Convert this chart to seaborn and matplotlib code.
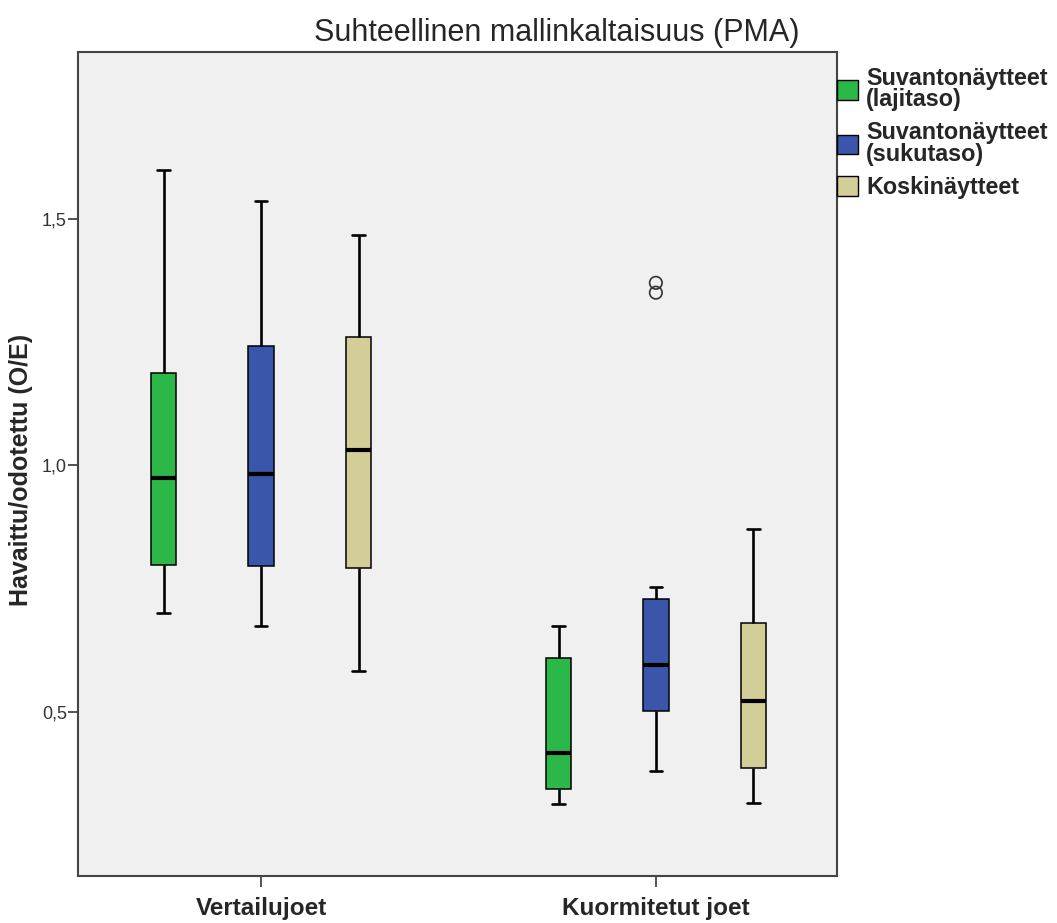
import numpy as np
import pandas as pd
import matplotlib
matplotlib.use("Agg")
import matplotlib.pyplot as plt
import seaborn as sns
from matplotlib.patches import Patch

# ---------------- data ----------------
title = "Suhteellinen mallinkaltaisuus (PMA)"
ylabel = "Havaittu/odotettu (O/E)"
groups = ["Vertailujoet", "Kuormitetut joet"]
series = ["Suvantonäytteet (lajitaso)", "Suvantonäytteet (sukutaso)", "Koskinäytteet"]
legend_labels = ["Suvantonäytteet\n(lajitaso)", "Suvantonäytteet\n(sukutaso)", "Koskinäytteet"]
colors = ["#2cb848", "#3a56aa", "#d3ce97"]

# five-number summaries: min, Q1, median, Q3, max
vert_lajitaso = [0.700, 0.798, 0.975, 1.188, 1.601]
vert_sukutaso = [0.674, 0.796, 0.983, 1.243, 1.538]
vert_koski = [0.582, 0.792, 1.032, 1.261, 1.468]
kuorm_lajitaso = [0.312, 0.343, 0.416, 0.609, 0.674]
kuorm_sukutaso = [0.379, 0.501, 0.594, 0.729, 0.753]
kuorm_koski = [0.314, 0.385, 0.521, 0.680, 0.871]
kuorm_sukutaso_outliers = [1.371, 1.351]

ytick_values = [0.5, 1.0, 1.5]
ytick_labels = ["0,5", "1,0", "1,5"]

# ---------------- tables ----------------
summaries = {
    (groups[0], series[0]): vert_lajitaso,
    (groups[0], series[1]): vert_sukutaso,
    (groups[0], series[2]): vert_koski,
    (groups[1], series[0]): kuorm_lajitaso,
    (groups[1], series[1]): kuorm_sukutaso,
    (groups[1], series[2]): kuorm_koski,
}
rows = [(g, s, v) for (g, s), vals in summaries.items() for v in vals]
df = pd.DataFrame(rows, columns=["joki", "nayte", "arvo"])
df_out = pd.DataFrame({"joki": groups[1], "nayte": series[1],
                       "arvo": kuorm_sukutaso_outliers})

# ---------------- figure ----------------
sns.set_theme(style="ticks")
plt.rcParams["font.family"] = ["Liberation Sans", "DejaVu Sans"]

fig = plt.figure(figsize=(10.57, 9.23), dpi=100)
ax = fig.add_axes([0.0738, 0.0509, 0.7181, 0.8928])
ax.set_facecolor("#f0f0f0")

BOX_W = 0.74
sns.boxplot(data=df, x="joki", y="arvo", hue="nayte", order=groups, hue_order=series,
            palette=colors, width=BOX_W, gap=0.74, whis=np.inf, saturation=1,
            linecolor="black", linewidth=1.1,
            medianprops=dict(linewidth=3.0, color="black"),
            whiskerprops=dict(linewidth=1.9, color="black"),
            capprops=dict(linewidth=1.9, color="black"),
            legend=False, ax=ax)

sns.stripplot(data=df_out, x="joki", y="arvo", hue="nayte", order=groups, hue_order=series,
              dodge=True, jitter=False, palette=colors, size=9, legend=False, ax=ax)

# align strip dodge offsets (seaborn uses 0.8 width) with the box dodge width
for coll in ax.collections:
    offs = np.asarray(coll.get_offsets(), dtype=float)
    if len(offs):
        base = np.round(offs[:, 0])
        offs[:, 0] = base + (offs[:, 0] - base) * BOX_W / 0.8
        coll.set_offsets(offs)
    coll.set_facecolor("none")
    coll.set_edgecolor("#333333")
    coll.set_linewidth(1.2)

ax.set_xlim(-0.464, 1.459)
ax.set_ylim(0.166, 1.840)
ax.set_yticks(ytick_values, ytick_labels)
ax.set_xlabel("")
ax.set_ylabel("")

for sp in ax.spines.values():
    sp.set_visible(True)
    sp.set_color("#444444")
    sp.set_linewidth(1.5)

ax.tick_params(axis="y", direction="out", length=7, width=1.3, color="#444444",
               labelsize=13, labelcolor="#333333", pad=1)
ax.tick_params(axis="x", direction="out", length=8, width=1.3, color="#444444",
               labelsize=17.5, pad=7)
for lab in ax.get_xticklabels():
    lab.set_fontweight("bold")
    lab.set_family(["Liberation Sans Narrow", "Liberation Sans", "DejaVu Sans"])

fig.text(0.527, 0.964, title, ha="center", va="center", fontsize=22)
fig.text(0.020, 0.491, ylabel, ha="center", va="center", rotation=90,
         fontsize=18, fontweight="bold")

handles = [Patch(facecolor=c, edgecolor="black", linewidth=1.0) for c in colors]
leg = ax.legend(handles, legend_labels, loc="upper left", bbox_to_anchor=(1.0, 0.982),
                frameon=False, borderaxespad=0, borderpad=0, handlelength=0.9,
                handleheight=0.9, handletextpad=0.35, labelspacing=0.45,
                prop=dict(weight="bold", size=16.8))
for t in leg.get_texts():
    t.set_linespacing(0.9)

fig.savefig("out.png", dpi=100, facecolor="white")
